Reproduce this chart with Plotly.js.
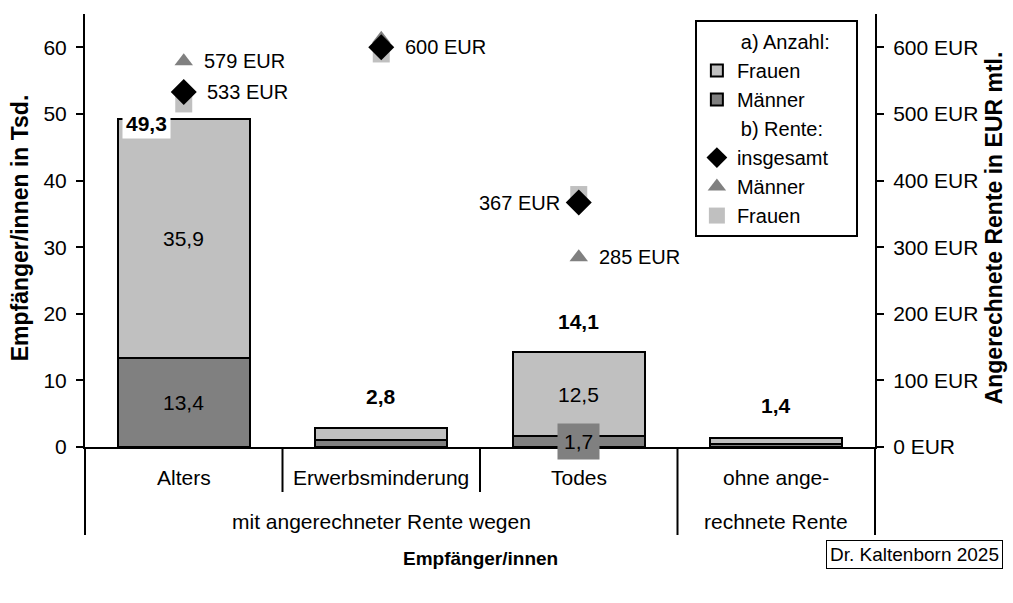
<!DOCTYPE html>
<html><head><meta charset="utf-8">
<script src="https://cdn.plot.ly/plotly-3.0.1.min.js"></script>
<style>body{margin:0;background:#fff}</style></head>
<body><div id="chart" style="width:1013px;height:603px"></div>
<script>
// ---- data ----
const categories = ["Alters", "Erwerbsminderung", "Todes", "ohne ange-"];
const groupLabels = ["mit angerechneter Rente wegen", "rechnete Rente"];
const maennerTsd = [13.4, 1.0, 1.7, 0.4];
const frauenTsd = [35.9, 1.8, 12.5, 1.0];
const totalTsd = [49.3, 2.8, 14.1, 1.4];
const showMaennerLabel = [true, false, true, false];
const showFrauenLabel = [true, false, true, false];
const renteInsgesamt = [533, 600, 367, null];
const renteMaenner = [579, 613, 285, null];
const renteFrauen = [515, 590, 379, null];
const yTicks = [0, 10, 20, 30, 40, 50, 60];
const y2Ticks = [0, 100, 200, 300, 400, 500, 600];
const y2TickText = y2Ticks.map(v => v + " EUR");

const FONT = "Liberation Sans, Arial, sans-serif";
const FS = 21;
const NB = "\u00a0";
const xs = categories.map((c, i) => i);
const fmt = v => v.toFixed(1).replace(".", ",");
const eur = v => v + " EUR";

const traces = [
  {type: "bar", x: xs, y: maennerTsd, name: "Männer", width: 0.67,
   marker: {color: "#808080", line: {color: "#000", width: 2}},
   legendgroup: "a", legendgrouptitle: {text: NB.repeat(7) + "a) Anzahl:", font: {size: 20}}, legendrank: 2},
  {type: "bar", x: xs, y: frauenTsd, name: "Frauen", width: 0.67,
   marker: {color: "#c0c0c0", line: {color: "#000", width: 2}},
   legendgroup: "a", legendrank: 1},
  {type: "scatter", mode: "markers", x: xs, y: renteFrauen, yaxis: "y2", name: "Frauen",
   marker: {symbol: "square", size: 17, color: "#c0c0c0"}, legendgroup: "b", legendrank: 5},
  {type: "scatter", mode: "markers", x: xs, y: renteMaenner, yaxis: "y2", name: "Männer",
   marker: {symbol: "triangle-up", size: 16, color: "#808080"}, legendgroup: "b", legendrank: 4},
  {type: "scatter", mode: "markers", x: xs, y: renteInsgesamt, yaxis: "y2", name: "insgesamt" + NB.repeat(4),
   marker: {symbol: "diamond", size: 20, color: "#000"},
   legendgroup: "b", legendgrouptitle: {text: NB.repeat(7) + "b) Rente:", font: {size: 20}}, legendrank: 3}
];

const ann = [];
// category labels
categories.forEach((c, i) => ann.push({x: i, xref: "x", y: 0, yref: "paper", yshift: -30, text: c,
  showarrow: false, font: {size: FS}, xanchor: "center", yanchor: "middle"}));
ann.push({x: 1, xref: "x", y: 0, yref: "paper", yshift: -74, text: groupLabels[0], showarrow: false,
  font: {size: FS}, yanchor: "middle"});
ann.push({x: 3, xref: "x", y: 0, yref: "paper", yshift: -74, text: groupLabels[1], showarrow: false,
  font: {size: FS}, yanchor: "middle"});
// totals
totalTsd.forEach((t, i) => {
  if (i === 0) {
    ann.push({x: i, y: t, xshift: -37, yshift: -5, text: "<b>" + fmt(t) + "</b>", showarrow: false,
      font: {size: FS}, bgcolor: "#fff", borderpad: 3, yanchor: "middle"});
  } else {
    ann.push({x: i, y: t, yshift: 32, text: "<b>" + fmt(t) + "</b>", showarrow: false,
      font: {size: FS}, yanchor: "middle"});
  }
});
// segment labels
maennerTsd.forEach((m, i) => {
  if (showMaennerLabel[i]) {
    const o = {x: i, y: m / 2, text: fmt(m), showarrow: false, font: {size: FS}, yanchor: "middle"};
    if (m < 5) { o.bgcolor = "#808080"; o.borderpad = 6; }
    ann.push(o);
  }
  if (showFrauenLabel[i]) {
    ann.push({x: i, y: m + frauenTsd[i] / 2, text: fmt(frauenTsd[i]), showarrow: false,
      font: {size: FS}, yanchor: "middle"});
  }
});
// rente labels
const rl = (x, v, side, shift) => ann.push({x: x, y: v, yref: "y2", text: eur(v), showarrow: false,
  font: {size: 20}, xanchor: side, xshift: shift, yanchor: "middle"});
rl(0, renteMaenner[0], "left", 18);
rl(0, renteInsgesamt[0], "left", 21);
rl(1, renteInsgesamt[1], "left", 22);
rl(2, renteInsgesamt[2], "right", -17);
rl(2, renteMaenner[2], "left", 18);
// axis titles
ann.push({x: 0, xref: "paper", xshift: -65, y: 0.505, yref: "paper", textangle: -90,
  text: "<b>Empfänger/innen in Tsd.</b>", showarrow: false, font: {size: 23}, xanchor: "center", yanchor: "middle"});
ann.push({x: 1, xref: "paper", xshift: 119, y: 0.505, yref: "paper", textangle: -90,
  text: "<b>Angerechnete Rente in EUR mtl.</b>", showarrow: false, font: {size: 23}, xanchor: "center", yanchor: "middle"});
ann.push({x: 0.5, xref: "paper", y: 0, yref: "paper", yshift: -111,
  text: "<b>Empfänger/innen</b>", showarrow: false, font: {size: 19}, yanchor: "middle"});
ann.push({x: 1.162, xref: "paper", y: 0, yref: "paper", yshift: -107,
  text: "Dr. Kaltenborn 2025", showarrow: false, font: {size: 19}, xanchor: "right", yanchor: "middle",
  bordercolor: "#000", borderwidth: 1, borderpad: 3, bgcolor: "#fff"});

const PH = 433;
const shapes = [];
[0.25, 0.5].forEach(px => shapes.push({type: "line", xref: "paper", yref: "paper",
  x0: px, x1: px, y0: 0, y1: -45 / PH, line: {color: "#000", width: 2}}));
[0, 0.75, 1].forEach(px => shapes.push({type: "line", xref: "paper", yref: "paper",
  x0: px, x1: px, y0: 0, y1: -88 / PH, line: {color: "#000", width: 2}}));

const layout = {
  width: 1013, height: 603,
  margin: {l: 85, r: 138, t: 14, b: 156, pad: 0},
  paper_bgcolor: "#fff", plot_bgcolor: "#fff",
  font: {family: FONT, size: FS, color: "#000"},
  barmode: "stack", showlegend: true,
  xaxis: {range: [-0.5, 3.5], showticklabels: false, ticks: "", showgrid: false, zeroline: false,
    showline: true, linecolor: "#000", linewidth: 2, fixedrange: true},
  yaxis: {range: [0, 65], tickvals: yTicks, ticks: "outside", ticklen: 7, tickwidth: 2, tickcolor: "#000",
    showgrid: false, zeroline: false, showline: true, linecolor: "#000", linewidth: 2,
    tickfont: {size: FS}, ticklabelstandoff: 5},
  yaxis2: {overlaying: "y", side: "right", range: [0, 650], tickvals: y2Ticks, ticktext: y2TickText,
    ticks: "outside", ticklen: 7, tickwidth: 2, tickcolor: "#000", showgrid: false, zeroline: false,
    showline: true, linecolor: "#000", linewidth: 2, tickfont: {size: FS}, ticklabelstandoff: 5},
  legend: {x: 0.772, y: 0.986, xanchor: "left", yanchor: "top", bordercolor: "#000", borderwidth: 2,
    bgcolor: "#fff", traceorder: "grouped", tracegroupgap: 0, font: {size: 20}, itemwidth: 30},
  annotations: ann, shapes: shapes
};
Plotly.newPlot("chart", traces, layout, {staticPlot: true, displayModeBar: false});
</script></body></html>
